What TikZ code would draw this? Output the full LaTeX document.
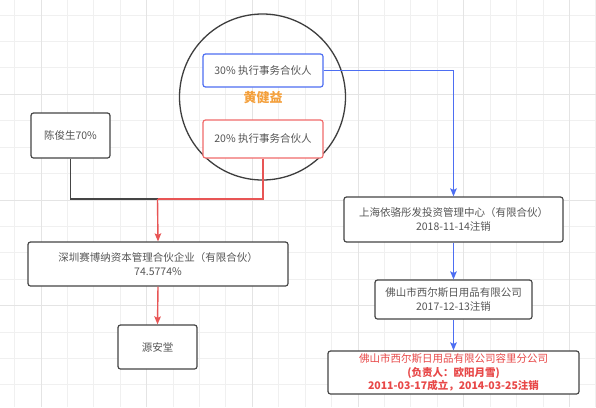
\documentclass[tikz,border=0pt]{standalone}
\usepackage{fontspec}
\setmainfont{Noto Sans CJK SC}
\usetikzlibrary{arrows.meta}
\definecolor{gridminor}{HTML}{F0F0F0}
\definecolor{gridmajor}{HTML}{E4E4E4}
\definecolor{boxc}{HTML}{454545}
\definecolor{txt}{HTML}{555555}
\definecolor{bluec}{HTML}{4D6EF2}
\definecolor{redc}{HTML}{E85555}
\definecolor{redbox}{HTML}{F06A6A}
\definecolor{orangec}{HTML}{F4A03C}
\definecolor{redtxt}{HTML}{E84848}
\tikzset{
  box/.style={draw=boxc, rounded corners=2.5pt, line width=1.2pt, fill=white,
    align=center, text=txt, inner sep=0pt, font=\fontsize{10.5}{14}\selectfont},
  conn/.style={line width=1.4pt},
  tip/.style={-{Stealth[length=8pt,width=6.5pt,inset=1.5pt]}},
}
\begin{document}
\begin{tikzpicture}[x=1pt,y=-1pt]
\fill[white] (0,0) rectangle (596,407);
\useasboundingbox (0,0) rectangle (596,407);
% grid
\foreach \i in {0,...,22} {
  \pgfmathsetmacro\xx{14.5+26.42*\i}
  \draw[gridminor, line width=0.8pt] (\xx,0) -- (\xx,407);
}
\foreach \i in {0,...,15} {
  \pgfmathsetmacro\yy{15+26.42*\i}
  \draw[gridminor, line width=0.8pt] (0,\yy) -- (596,\yy);
}
\foreach \xx in {41,146.7,252.4,358.1,463.8,569.5}
  \draw[gridmajor, line width=0.9pt] (\xx,0) -- (\xx,407);
\foreach \yy in {94.3,200,305.7}
  \draw[gridmajor, line width=0.9pt] (0,\yy) -- (596,\yy);

% circle person
\node[circle, draw=boxc!90!black, line width=1.3pt, minimum size=166pt, inner sep=0pt] (circ) at (262.5,97) {};
\node[box, draw=bluec, minimum width=120pt, minimum height=33pt] (bbox) at (263,70.5) {30\% 执行事务合伙人};
\node[text=orangec, font=\fontsize{13}{15}\selectfont\bfseries] (name) at (263,98) {黄健益};
\node[box, draw=redbox, minimum width=120pt, minimum height=38pt] (rbox) at (263,139) {20\% 执行事务合伙人};

% left side
\node[box, minimum width=79pt, minimum height=45pt] (chen) at (70.5,135.5) {陈俊生70\%};
\node[box, minimum width=260pt, minimum height=44pt] (sz) at (158,264) {深圳赛博纳资本管理合伙企业（有限合伙）\\74.5774\%};
\node[box, minimum width=79pt, minimum height=44pt] (ya) at (157.5,347) {源安堂};
\coordinate (j) at (157.5,199);

% right side
\node[box, minimum width=219pt, minimum height=45pt] (sh) at (453.5,219.5) {上海依骆彤发投资管理中心（有限合伙）\\2018-11-14注销};
\node[box, minimum width=157pt, minimum height=39pt] (fs) at (453.5,299.5) {佛山市西尔斯日用品有限公司\\2017-12-13注销};
\node[box, minimum width=251pt, minimum height=43pt, text=redtxt, font=\fontsize{10.5}{13.5}\selectfont] (rl) at (453.5,372.5) {佛山市西尔斯日用品有限公司容里分公司\\\textbf{(负责人：欧阳月雪)}\\\textbf{2011-03-17成立，2014-03-25注销}};

% connectors
\draw[conn, boxc] (chen.south) |- (j);
\draw[conn, redc] (rbox.south) |- (j);
\draw[conn, redc, tip] (j) -- (sz.north);
\draw[conn, redc, tip] (sz.south) -- (ya.north);
\draw[conn, bluec, tip] (bbox.east) -| (sh.north);
\draw[conn, bluec, tip] (sh.south) -- (fs.north);
\draw[conn, bluec, tip] (fs.south) -- (rl.north);
\end{tikzpicture}
\end{document}
